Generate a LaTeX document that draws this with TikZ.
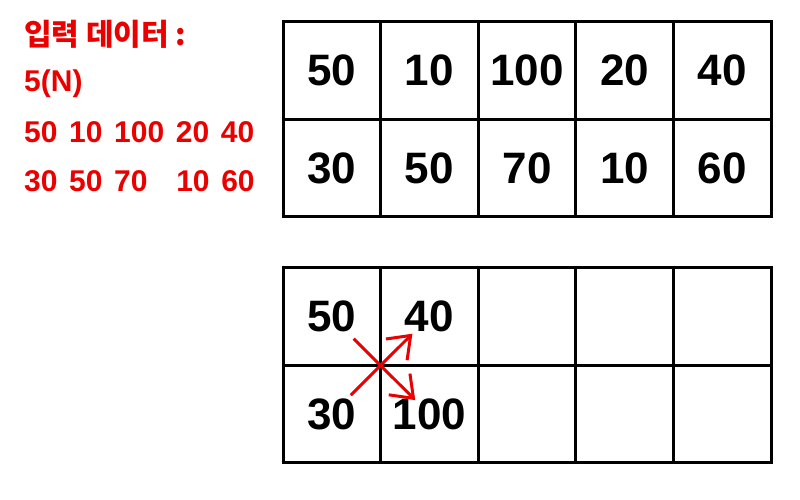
\documentclass[tikz,border=0pt]{standalone}
\usepackage{fontspec}
\setmainfont{Liberation Sans}
\newfontfamily\korfont{Noto Sans CJK KR}
\newfontfamily\redfont{Liberation Sans}[WordSpace=1.4]
\usetikzlibrary{arrows.meta}
\definecolor{inred}{RGB}{235,0,0}
\tikzset{
  cell/.style={draw, line width=3pt, minimum width=97.6pt, minimum height=97.5pt,
    inner sep=0pt, font=\fontsize{44}{48}\selectfont\bfseries},
  redtxt/.style={anchor=base west, inner sep=0pt, text=inred,
    font=\redfont\bfseries\fontsize{30}{34}\selectfont},
  redarrow/.style={draw=inred, line width=3pt, -{Straight Barb[length=20pt,width=30pt]}}
}
\begin{document}
\begin{tikzpicture}[x=1pt,y=1pt]
\useasboundingbox (0,0) rectangle (800,500);
\node[redtxt, font=\korfont\bfseries\fontsize{30}{34}\selectfont] (title) at (24,454) {입력 데이터 :};
\node[redtxt] (num) at (24,408) {5(N)};
\node[redtxt] (line1) at (24,357) {50 10 100 20 40};
\node[redtxt] (line2) at (24,308) {30 50 70 \hspace{17pt}10 60};
\foreach \v [count=\c] in {50,10,100,20,40}
  \node[cell] (a-1-\c) at ({283+97.6*(\c-0.5)},429.25) {\v};
\foreach \v [count=\c] in {30,50,70,10,60}
  \node[cell] (a-2-\c) at ({283+97.6*(\c-0.5)},331.75) {\v};
\foreach \v [count=\c] in {50,40,{},{},{}}
  \node[cell] (b-1-\c) at ({283+97.6*(\c-0.5)},183.25) {\v};
\foreach \v [count=\c] in {30,100,{},{},{}}
  \node[cell] (b-2-\c) at ({283+97.6*(\c-0.5)},85.75) {\v};
\draw[redarrow, shorten <=27pt, shorten >=24pt] (b-2-1.center) -- (b-1-2.center);
\draw[redarrow, shorten <=31pt, shorten >=20pt] (b-1-1.center) -- (b-2-2.center);
\end{tikzpicture}
\end{document}
